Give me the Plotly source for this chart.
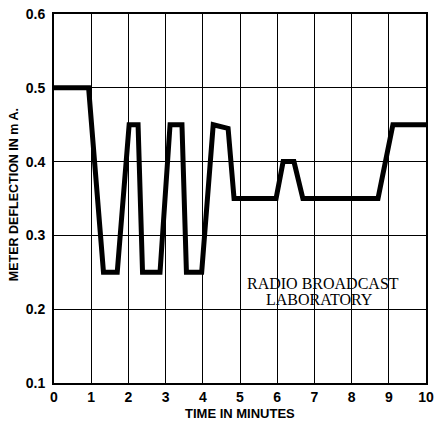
import plotly.graph_objects as go

time_min = [0, 0.93, 1.33, 1.7, 2.02, 2.26, 2.38, 2.85, 3.12, 3.44, 3.56, 3.97, 4.28, 4.68, 4.84, 5.97, 6.16, 6.45, 6.69, 8.71, 9.11, 10]
deflection = [0.5, 0.5, 0.25, 0.25, 0.45, 0.45, 0.25, 0.25, 0.45, 0.45, 0.25, 0.25, 0.45, 0.445, 0.35, 0.35, 0.40, 0.40, 0.35, 0.35, 0.45, 0.45]

x_ticks = list(range(0, 11))
y_ticks = [0.1, 0.2, 0.3, 0.4, 0.5, 0.6]
y_labels = ["0.1", "0.2", "0.3", "0.4", "0.5", "0.6"]

fig = go.Figure()
fig.add_trace(go.Scatter(x=time_min, y=deflection, mode="lines",
                         line=dict(color="black", width=5), hoverinfo="skip"))

# white patch behind the laboratory label (hides vertical grid lines)
fig.add_shape(type="rect", xref="x", yref="y", x0=5.15, x1=9.75, y0=0.203, y1=0.263,
              fillcolor="white", line=dict(width=0), layer="below")

fig.add_annotation(x=7.24, y=0.2355, text="RADIO BROADCAST", showarrow=False,
                   xanchor="center", yanchor="middle",
                   font=dict(family="Liberation Serif", size=16, color="black"))
fig.add_annotation(x=7.15, y=0.2135, text="LABORATORY", showarrow=False,
                   xanchor="center", yanchor="middle",
                   font=dict(family="Liberation Serif", size=16, color="black"))

# axis titles
fig.add_annotation(xref="paper", yref="paper", x=-0.1075, y=0.509,
                   xanchor="center", yanchor="middle",
                   text="<b>METER DEFLECTION IN m A.</b>", textangle=-90, showarrow=False,
                   font=dict(family="Liberation Sans", size=12.5, color="black"))
fig.add_annotation(xref="paper", yref="paper", x=0.5, y=-0.083,
                   xanchor="center", yanchor="middle",
                   text="<b>TIME IN MINUTES</b>", showarrow=False,
                   font=dict(family="Liberation Sans", size=13, color="black"))

fig.update_layout(
    width=436, height=421,
    margin=dict(l=54, r=10, t=14, b=38),
    paper_bgcolor="white", plot_bgcolor="white",
    showlegend=False,
    font=dict(family="Liberation Sans", size=12, color="black"),
)
fig.update_xaxes(range=[0, 10], tickvals=x_ticks, ticktext=[str(t) for t in x_ticks],
                 showgrid=True, gridcolor="black", gridwidth=1.2, automargin=False,
                 showline=True, linecolor="black", linewidth=2, mirror=True,
                 ticks="", zeroline=False, ticklabeloverflow="allow",
                 tickfont=dict(family="Liberation Sans", size=14, color="black", weight="bold"))
fig.update_yaxes(range=[0.1, 0.6], tickvals=y_ticks, ticktext=y_labels,
                 showgrid=True, gridcolor="black", gridwidth=1.2, automargin=False,
                 showline=True, linecolor="black", linewidth=2, mirror=True,
                 ticks="", zeroline=False, ticklabelstandoff=4, ticklabeloverflow="allow",
                 tickfont=dict(family="Liberation Sans", size=14, color="black", weight="bold"))

fig.write_html("out.html", config={"displayModeBar": False},
               post_script="document.body.style.margin='0px';")
